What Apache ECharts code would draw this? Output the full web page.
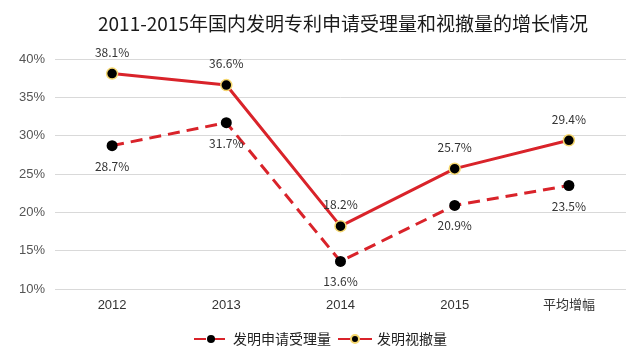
<!DOCTYPE html>
<html><head><meta charset="utf-8">
<script src="https://cdn.jsdelivr.net/npm/echarts@6/dist/echarts.min.js"></script>
<style>html,body{margin:0;padding:0;background:#fff}#c{width:640px;height:362px}</style>
</head><body><div id="c"></div>
<script>
const categories = ['2012', '2013', '2014', '2015', '平均增幅'];
const applications = [28.7, 31.7, 13.6, 20.9, 23.5];
const withdrawn = [38.1, 36.6, 18.2, 25.7, 29.4];
const titleText = '2011-2015年国内发明专利申请受理量和视撤量的增长情况';
const seriesNames = ['发明申请受理量', '发明视撤量'];

const chart = echarts.init(document.getElementById('c'));
const font = '"Noto Sans CJK SC", sans-serif';
chart.setOption({
  animation: false,
  backgroundColor: '#fff',
  title: {
    text: titleText, left: 93, top: 9,
    textStyle: { fontFamily: font, fontSize: 19, fontWeight: 'normal', color: '#1a1a1a' }
  },
  legend: {
    bottom: 11, left: 'center', itemWidth: 34, itemHeight: 10, itemGap: 6,
    textStyle: { fontFamily: font, fontSize: 14, color: '#222' },
    data: seriesNames
  },
  grid: { left: 55, right: 14, top: 59, bottom: 73 },
  xAxis: {
    type: 'category', data: categories, boundaryGap: true,
    axisLine: { show: false }, axisTick: { show: false },
    axisLabel: { fontFamily: 'Liberation Sans, ' + font, fontSize: 13, color: '#333', margin: 10 }
  },
  yAxis: {
    type: 'value', min: 10, max: 40, interval: 5,
    axisLabel: { formatter: '{value}%', fontFamily: 'Liberation Sans, Arial', fontSize: 13, color: '#555', margin: 10 },
    splitLine: { lineStyle: { color: '#d9d9d9', width: 1 } },
    axisLine: { show: false }, axisTick: { show: false }
  },
  series: [
    {
      name: seriesNames[0], type: 'line', data: applications,
      symbol: 'circle', symbolSize: 11,
      lineStyle: { color: '#d9232a', width: 3, type: [12, 7] },
      itemStyle: { color: '#000', borderColor: '#222', borderWidth: 0 },
      label: { show: true, position: 'bottom', distance: 9, formatter: p => p.value.toFixed(1) + '%', fontFamily: font, fontSize: 12, color: '#333' }
    },
    {
      name: seriesNames[1], type: 'line', data: withdrawn,
      symbol: 'circle', symbolSize: 11,
      lineStyle: { color: '#d9232a', width: 3 },
      itemStyle: { color: '#000', borderColor: '#f5d76e', borderWidth: 1.5 },
      label: { show: true, position: 'top', distance: 9, formatter: p => p.value.toFixed(1) + '%', fontFamily: font, fontSize: 12, color: '#333' }
    }
  ]
});
</script></body></html>
